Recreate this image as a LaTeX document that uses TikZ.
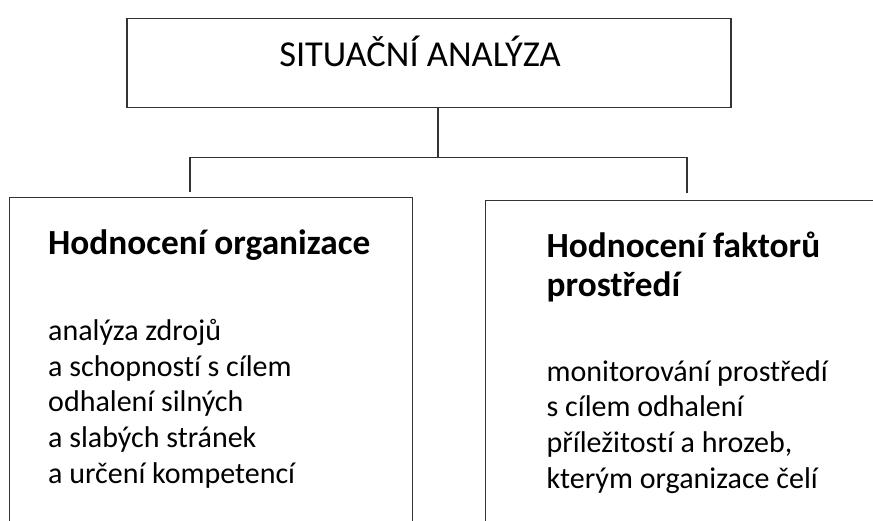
\documentclass[tikz,border=0pt]{standalone}
\usepackage{fontspec}
\setmainfont{Carlito}[Ligatures=NoCommon]
\begin{document}
\begin{tikzpicture}[x=1pt,y=-1pt,
  boxline/.style={draw=black!80, line width=1.4pt},
  conn/.style={draw=black!80, line width=1.3pt},
  titletext/.style={font=\fontsize{36.5}{40}\selectfont, inner sep=0pt, anchor=base},
  headtext/.style={font=\fontsize{35.3}{38.5}\selectfont\bfseries, inner sep=0pt, anchor=base west, align=left},
  bodytext/.style={font=\fontsize{30}{35.6}\selectfont, inner sep=0pt, anchor=base west, align=left}
]
\useasboundingbox (0,0) rectangle (873,520);
\clip (0,0) rectangle (873,520);
\fill[white] (0,0) rectangle (873,520);
% boxes
\node[boxline, minimum width=604pt, minimum height=89pt, inner sep=0pt] (top) at (429,62.7) {};
\node[boxline, minimum width=403pt, minimum height=360pt, inner sep=0pt, anchor=north west] (left) at (9,196.5) {};
\node[boxline, minimum width=420pt, minimum height=360pt, inner sep=0pt, anchor=north west] (right) at (485,200) {};
% texts (multi-line nodes: base = last line)
\node[titletext] (ttl) at (420,66.7) {SITUAČNÍ ANALÝZA};
\node[headtext] (lh) at (48,254.3) {Hodnocení organizace};
\node[bodytext] (lb) at (48,483) {analýza zdrojů\\a schopností s cílem\\odhalení silných\\a slabých stránek\\a určení kompetencí};
\node[headtext] (rh) at (546.5,296) {Hodnocení faktorů\\prostředí};
\node[bodytext] (rb) at (546.5,488) {monitorování prostředí\\s cílem odhalení\\příležitostí a hrozeb,\\kterým organizace čelí};
% connectors
\coordinate (j) at (438,157.5);
\coordinate (jl) at (190,157.5);
\coordinate (jr) at (687,157.5);
\coordinate (el) at (190,192);
\coordinate (er) at (687,193);
\draw[conn] (top.south -| j) -- (j);
\draw[conn] (el) -- (jl) -- (jr) -- (er);
\end{tikzpicture}
\end{document}
